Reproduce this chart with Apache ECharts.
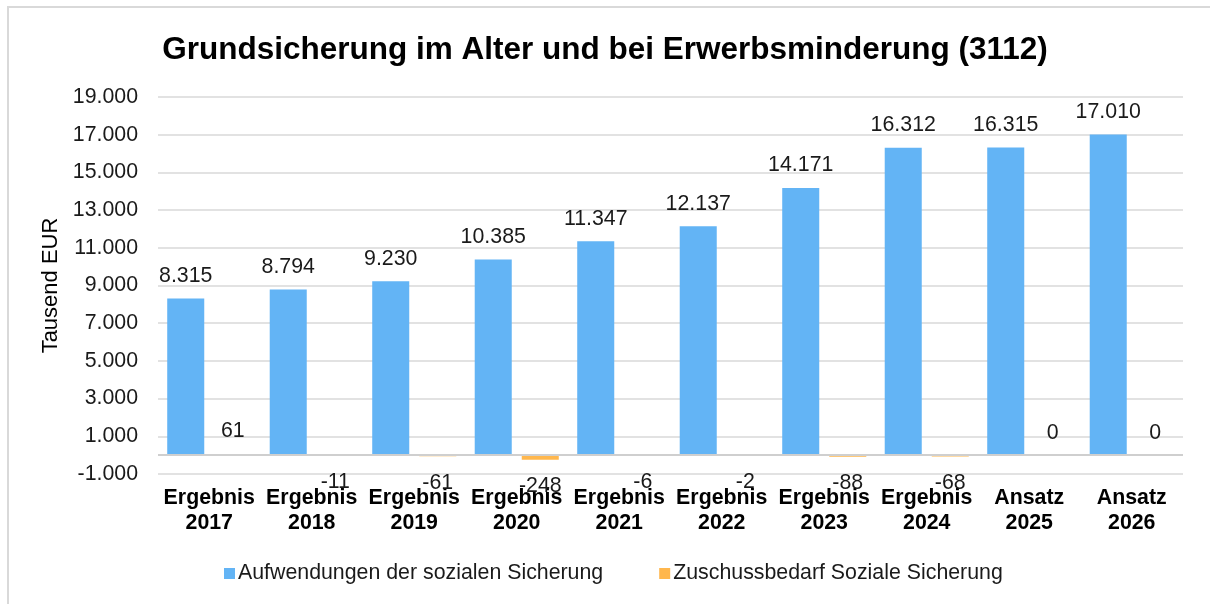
<!DOCTYPE html>
<html>
<head>
<meta charset="utf-8">
<script src="https://cdn.jsdelivr.net/npm/echarts@6/dist/echarts.min.js"></script>
<style>
  html, body { margin: 0; padding: 0; background: #fff; }
  #chart { width: 1210px; height: 604px; }
</style>
</head>
<body>
<div id="chart"></div>
<script>
// Daten
var categories = ['Ergebnis\n2017', 'Ergebnis\n2018', 'Ergebnis\n2019', 'Ergebnis\n2020', 'Ergebnis\n2021',
                  'Ergebnis\n2022', 'Ergebnis\n2023', 'Ergebnis\n2024', 'Ansatz\n2025', 'Ansatz\n2026'];
var aufwendungen = [8315, 8794, 9230, 10385, 11347, 12137, 14171, 16312, 16315, 17010];
var zuschuss = [61, -11, -61, -248, -6, -2, -88, -68, 0, 0];
var seriesNames = ['Aufwendungen der sozialen Sicherung', 'Zuschussbedarf Soziale Sicherung'];
var colors = ['#63b4f5', '#ffb74d'];
var font = '"Liberation Sans", Arial, sans-serif';
var fs = 21.33; // 16pt

// Tausenderpunkt wie im Original
function fmt(v) {
    var s = String(Math.abs(v)).replace(/\B(?=(\d{3})+(?!\d))/g, '.');
    return (v < 0 ? '-' : '') + s;
}

// negative Werte bekommen das Label unter dem Balken
function withLabels(values) {
    return values.map(function(v) {
        if (v < 0) {
            return { value: v, label: { position: 'bottom', distance: 16 } };
        }
        return v;
    });
}

var chart = echarts.init(document.getElementById('chart'));
var option = {
    color: colors,
    textStyle: { fontFamily: font },
    animation: false,
    title: {
        text: 'Grundsicherung im Alter und bei Erwerbsminderung (3112)',
        left: 'center',
        top: 29,
        textStyle: { fontFamily: font, fontSize: 31.5, fontWeight: 'bold', color: '#000' }
    },
    graphic: [{
        type: 'rect',
        shape: { x: 8, y: 7, width: 1240, height: 640 },
        style: { fill: 'none', stroke: '#d9d9d9', lineWidth: 2 },
        silent: true
    }],
    legend: {
        bottom: 15,
        left: 219,
        itemWidth: 11,
        itemHeight: 11,
        itemGap: 56,
        icon: 'rect',
        textStyle: { fontFamily: font, fontSize: fs, color: '#1a1a1a', padding: [0, 0, 0, -2] },
        data: seriesNames
    },
    grid: { left: 158, right: 27, top: 97, bottom: 130 },
    xAxis: {
        type: 'category',
        data: categories,
        axisLine: { show: false },
        axisTick: { show: false },
        axisLabel: {
            interval: 0,
            margin: 12,
            fontFamily: font,
            fontSize: fs,
            fontWeight: 'bold',
            color: '#000',
            lineHeight: 25
        }
    },
    yAxis: {
        type: 'value',
        min: -1000,
        max: 19000,
        interval: 2000,
        name: 'Tausend EUR',
        nameLocation: 'middle',
        nameRotate: 90,
        nameGap: 88,
        nameTextStyle: { fontFamily: font, fontSize: 22, color: '#000' },
        axisLine: { show: false },
        axisTick: { show: false },
        axisLabel: {
            margin: 20,
            fontFamily: font,
            fontSize: fs,
            color: '#1a1a1a',
            formatter: fmt
        },
        splitLine: { lineStyle: { color: '#d9d9d9', width: 1.5 } }
    },
    series: [{
        name: seriesNames[0],
        type: 'bar',
        data: aufwendungen,
        barGap: '27%',
        barCategoryGap: '18%',
        label: {
            show: true,
            position: 'top',
            distance: 12,
            fontFamily: font,
            fontSize: fs,
            color: '#1a1a1a',
            formatter: function(p) { return fmt(p.value); }
        },
        markLine: {
            silent: true,
            symbol: 'none',
            label: { show: false },
            lineStyle: { color: '#cfcfcf', width: 2, type: 'solid' },
            data: [{ yAxis: 0 }]
        }
    }, {
        name: seriesNames[1],
        type: 'bar',
        data: withLabels(zuschuss),
        label: {
            show: true,
            position: 'top',
            distance: 12,
            fontFamily: font,
            fontSize: fs,
            color: '#1a1a1a',
            formatter: function(p) { return fmt(p.value); }
        }
    }]
};
chart.setOption(option);
</script>
</body>
</html>
